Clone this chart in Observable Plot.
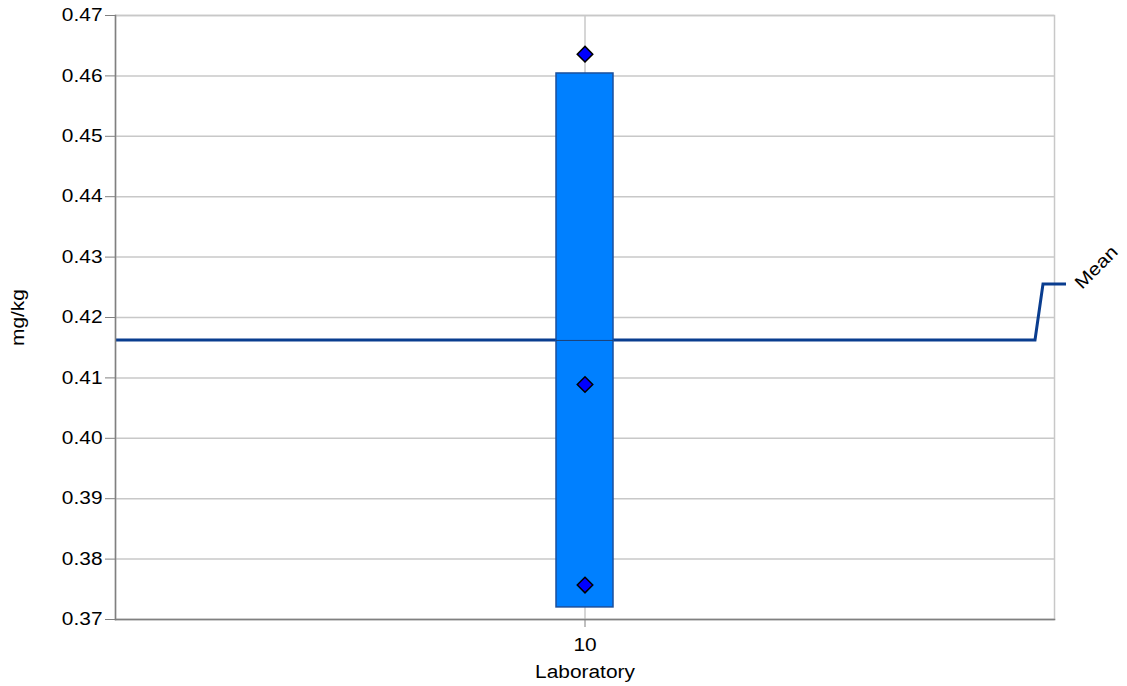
<!DOCTYPE html>
<html>
<head>
<meta charset="utf-8">
<script src="https://cdn.jsdelivr.net/npm/d3@7"></script>
<script src="https://cdn.jsdelivr.net/npm/@observablehq/plot@0.6"></script>
<style>
  html, body { margin: 0; padding: 0; background: #fff; }
  svg { font-family: "Liberation Sans", Arial, sans-serif; }
</style>
</head>
<body>
<div id="chart"></div>
<script>
// ---- data ----
const laboratories = ["10"];
const barLow = [0.3720];
const barHigh = [0.4604];
const labMean = [0.4162];
const results = [0.4636, 0.4089, 0.3757];
const overallMean = 0.4162;
const yTicks = [0.37, 0.38, 0.39, 0.40, 0.41, 0.42, 0.43, 0.44, 0.45, 0.46, 0.47];

const bars = laboratories.map((lab, i) => ({lab, low: barLow[i], high: barHigh[i], mean: labMean[i]}));
const points = results.map(v => ({lab: laboratories[0], value: v}));

const W = 1127, H = 686;
const mL = 115, mR = 73, mT = 15, mB = 67;
const barHalfInset = (W - mL - mR - 57) / 2;
const FS = 18;
const WIDEN = 1.16;

// mean line with leader + label, positioned through the y scale
function meanLeader(index, scales, values, dims) {
  const y0 = scales.y(overallMean);
  const xEnd = dims.width - dims.marginRight;
  const g = d3.create("svg:g");
  const pts = [[dims.marginLeft, y0], [xEnd - 19, y0], [xEnd - 11, y0 - 56], [xEnd + 12, y0 - 56]];
  g.append("path")
    .attr("d", d3.line()(pts))
    .attr("fill", "none")
    .attr("stroke", "#0a3d8f")
    .attr("stroke-width", 3);
  g.append("text")
    .attr("transform", `translate(${xEnd + 28},${y0 - 50}) rotate(-45)`)
    .attr("style", `font-size:${FS}px;text-anchor:start`)
    .attr("fill", "#000")
    .text("Mean");
  return g.node();
}

const chart = Plot.plot({
  width: W,
  height: H,
  marginLeft: mL,
  marginRight: mR,
  marginTop: mT,
  marginBottom: mB,
  style: {fontSize: FS + "px", fontFamily: "Liberation Sans, Arial, sans-serif", background: "#fff", overflow: "visible"},
  x: {type: "band", domain: laboratories, padding: 0, label: null},
  y: {domain: [0.37, 0.47], label: null},
  marks: [
    Plot.gridY(yTicks, {stroke: "#c8c8c8", strokeOpacity: 1, strokeWidth: 1.5}),
    Plot.gridX(laboratories, {stroke: "#c8c8c8", strokeOpacity: 1, strokeWidth: 1.5}),
    Plot.frame({stroke: "#c8c8c8", strokeWidth: 1.5}),
    meanLeader,
    Plot.barY(bars, {x: "lab", y1: "low", y2: "high", fill: "#0080ff", stroke: "#1b4f9c", strokeWidth: 1.5, insetLeft: barHalfInset, insetRight: barHalfInset}),
    Plot.tickY(bars, {x: "lab", y: "mean", stroke: "#1d3f73", strokeWidth: 1, insetLeft: barHalfInset, insetRight: barHalfInset}),
    Plot.dot(points, {x: "lab", y: "value", symbol: "diamond2", r: 7, fill: "#0000ff", stroke: "#000", strokeWidth: 1.5}),
    Plot.frame({anchor: "left", stroke: "#808080", strokeWidth: 1.5}),
    Plot.frame({anchor: "bottom", stroke: "#808080", strokeWidth: 1.5}),
    Plot.axisY(yTicks, {tickFormat: d3.format(".2f"), tickSize: 10, tickPadding: 3, stroke: "#808080", fill: "#000", fontSize: FS, label: null}),
    Plot.axisX(laboratories, {tickSize: 8, tickPadding: 11, stroke: "#808080", fill: "#000", fontSize: FS, label: null}),
    Plot.text(["Laboratory"], {frameAnchor: "bottom", dy: 58, fill: "#000", fontSize: FS}),
    Plot.text(["mg/kg"], {frameAnchor: "left", textAnchor: "middle", dx: -97, rotate: -90, fill: "#000", fontSize: FS})
  ]
});
document.getElementById("chart").appendChild(chart);

// widen glyphs slightly around each text's anchor point to match the reference face
chart.querySelectorAll("text").forEach(t => {
  const b = t.getBBox();
  if (!b || !isFinite(b.x)) return;
  const anchor = getComputedStyle(t).textAnchor;
  const ax = anchor === "end" ? b.x + b.width : anchor === "middle" ? b.x + b.width / 2 : b.x;
  const prev = t.getAttribute("transform") || "";
  t.setAttribute("transform", `${prev} translate(${ax},0) scale(${WIDEN},1) translate(${-ax},0)`);
});
</script>
</body>
</html>
